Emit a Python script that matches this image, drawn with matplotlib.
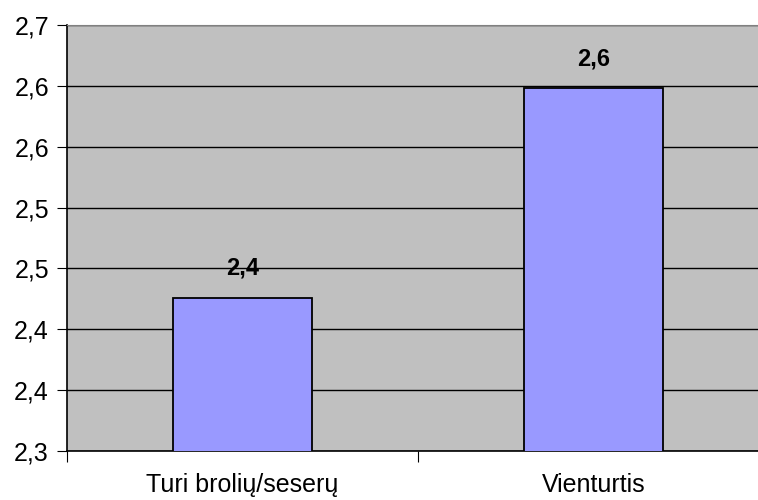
import matplotlib.pyplot as plt
from matplotlib.ticker import FixedLocator, FuncFormatter

plt.rcParams['font.family'] = ['Liberation Sans', 'DejaVu Sans']

categories = ['Turi brolių/seserų', 'Vienturtis']
values = [2.426, 2.598]
value_labels = ['2,4', '2,6']
y_ticks = [2.30, 2.35, 2.40, 2.45, 2.50, 2.55, 2.60, 2.65]

fig = plt.figure(figsize=(7.58, 5.0), dpi=100)
ax = fig.add_axes([0.0884, 0.098, 0.926, 0.852])
ax.set_facecolor('#C0C0C0')

x = range(len(categories))
ax.bar(x, values, width=0.394, bottom=0, color='#9999FF', edgecolor='black',
       linewidth=1.3, zorder=3)

for xi, v, lab in zip(x, values, value_labels):
    ax.annotate(lab, (xi, v), xytext=(0, 13), textcoords='offset points',
                ha='center', va='bottom', fontsize=17, fontweight='bold')

ax.set_xlim(-0.5, 1.5)
ax.set_ylim(2.30, 2.65)
ax.yaxis.set_major_locator(FixedLocator(y_ticks))
# round half up like a spreadsheet, comma as decimal sign
ax.yaxis.set_major_formatter(FuncFormatter(lambda v, p: f'{v + 1e-9:.1f}'.replace('.', ',')))
ax.grid(axis='y', color='black', linewidth=1, zorder=1)
ax.set_axisbelow(True)

# category ticks sit between the bars
ax.set_xticks([-0.5, 0.5, 1.5])
ax.set_xticklabels([])
ax.set_xticks([0, 1], minor=True)
ax.set_xticklabels(categories, minor=True)
ax.tick_params(axis='x', which='major', length=8, color='black')
ax.tick_params(axis='x', which='minor', length=0, pad=16, labelsize=18)
ax.tick_params(axis='y', length=7, labelsize=18, pad=6)

ax.spines['top'].set_color('#808080')
ax.spines['right'].set_visible(False)
ax.spines['left'].set_linewidth(1.2)
ax.spines['bottom'].set_linewidth(1.2)

fig.savefig('out.png', dpi=100)
